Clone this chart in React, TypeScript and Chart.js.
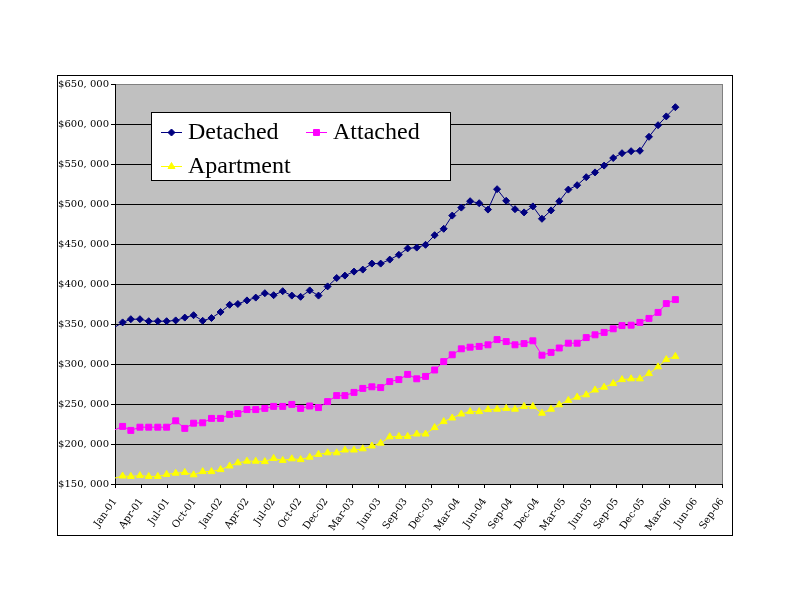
import { useEffect, useRef } from "react";
import { Chart, registerables } from "chart.js";
import { drawPoint } from "chart.js/helpers";

Chart.register(...registerables);

// monthly averages, Jan-01 .. Apr-06
const detached = [
  345000, 352000, 356000, 356000, 353500, 353500, 353500, 354500, 358000, 361000,
  354000, 357500, 365000, 374000, 375000, 379500, 383000, 388500, 386000, 391000,
  385500, 384000, 392000, 385500, 397000, 407500, 410500, 415500, 418000, 425500,
  425500, 430500, 436500, 444500, 445500, 449000, 461000, 469000, 485500, 495500,
  503500, 501000, 493000, 518500, 504000, 493500, 489500, 497000, 481500, 492000,
  503500, 518000, 523500, 533500, 539500, 548000, 557500, 563500, 566000, 566500,
  584000, 598500, 609500, 621000,
];
const attached = [
  217000, 222000, 217000, 221000, 221000, 221000, 221000, 229000, 219500, 226000,
  226500, 232000, 232000, 237000, 238000, 243000, 243000, 244500, 247000, 247000,
  249500, 244500, 247500, 245500, 253000, 260500, 260500, 264500, 269500, 271500,
  270500, 278000, 280500, 287000, 281500, 284500, 292500, 303000, 311500, 319000,
  321000, 322000, 324000, 330500, 328000, 324000, 325500, 329000, 311000, 314500,
  320000, 326000, 326000, 333000, 336500, 339500, 344000, 348000, 348500, 352000,
  357000, 364500, 375500, 380500,
];
const apartment = [
  157000, 160000, 159500, 160500, 159500, 159500, 162000, 163500, 164500, 161500,
  165500, 165500, 168000, 172500, 176500, 178500, 178500, 178000, 182000, 179500,
  181500, 180500, 183500, 187000, 189000, 189000, 192500, 192500, 194000, 197500,
  201000, 209000, 209500, 209500, 212500, 212500, 220500, 228000, 232500, 237500,
  240500, 240500, 243000, 243500, 244500, 243500, 247000, 247000, 238500, 243500,
  249000, 254500, 258500, 261500, 267500, 271000, 275500, 280500, 281500, 281500,
  288000, 296500, 305500, 309500,
];

const xTickLabels = [
  "Jan-01", "Apr-01", "Jul-01", "Oct-01", "Jan-02", "Apr-02", "Jul-02", "Oct-02",
  "Dec-02", "Mar-03", "Jun-03", "Sep-03", "Dec-03", "Mar-04", "Jun-04", "Sep-04",
  "Dec-04", "Mar-05", "Jun-05", "Sep-05", "Dec-05", "Mar-06", "Jun-06", "Sep-06",
];

// x axis is in days counted from 1 Jan 2001
const xMinDay = 5;
const xStepDays = 90;
const yMin = 150000;
const yMax = 650000;
const yStep = 50000;

const DAY = 86400000;
const monthDay = (i: number) => (Date.UTC(2001, i, 1) - Date.UTC(2001, 0, 1)) / DAY;
const toPoints = (vals: number[]) => vals.map((y, i) => ({ x: monthDay(i), y }));

const money = (v: number) => "$" + Math.floor(v / 1000) + ", " + String(v % 1000).padStart(3, "0");

const tickFont = { family: "'DejaVu Serif', serif", size: 10 };

const frame = {
  id: "frame",
  beforeDraw(chart: any) {
    const { ctx, chartArea: a } = chart;
    ctx.save();
    ctx.fillStyle = "#fff";
    ctx.fillRect(0, 0, chart.width, chart.height);
    ctx.strokeStyle = "#000";
    ctx.lineWidth = 1;
    ctx.strokeRect(57.5, 75.5, 675, 460);
    ctx.fillStyle = "#c0c0c0";
    ctx.fillRect(a.left, a.top, a.right - a.left, a.bottom - a.top);
    ctx.restore();
  },
  afterDraw(chart: any) {
    const { ctx, chartArea: a } = chart;
    ctx.save();
    ctx.strokeStyle = "#808080";
    ctx.lineWidth = 1;
    ctx.beginPath();
    ctx.moveTo(Math.round(a.right) + 0.5, a.top);
    ctx.lineTo(Math.round(a.right) + 0.5, a.bottom);
    ctx.stroke();

    // legend box
    ctx.fillStyle = "#fff";
    ctx.fillRect(151.5, 112.5, 299, 68);
    ctx.strokeStyle = "#000";
    ctx.strokeRect(151.5, 112.5, 299, 68);
    const slots = [
      [161, 132],
      [306, 132],
      [161, 166],
    ];
    chart.data.datasets.forEach((ds: any, i: number) => {
      const [x, y] = slots[i];
      ctx.strokeStyle = ds.borderColor;
      ctx.fillStyle = ds.backgroundColor;
      ctx.lineWidth = 1;
      ctx.beginPath();
      ctx.moveTo(x, y + 0.5);
      ctx.lineTo(x + 21, y + 0.5);
      ctx.stroke();
      drawPoint(ctx, { pointStyle: ds.pointStyle, radius: ds.legendRadius, rotation: 0, borderWidth: 1 }, x + 10.5, y + 0.5);
      ctx.fillStyle = "#000";
      ctx.font = "24px 'Liberation Serif', serif";
      ctx.textBaseline = "middle";
      ctx.fillText(ds.label, x + 27, y + 1);
    });
    ctx.restore();
  },
};

const series = [
  { label: "Detached", values: detached, color: "#000080", style: "rectRot", radius: 3.5 },
  { label: "Attached", values: attached, color: "#ff00ff", style: "rect", radius: 4.2 },
  { label: "Apartment", values: apartment, color: "#ffff00", style: "triangle", radius: 4 },
];

export default function App() {
  const canvasRef = useRef<HTMLCanvasElement>(null);

  useEffect(() => {
    document.body.style.margin = "0";
    const ctx = canvasRef.current?.getContext("2d");
    if (!ctx) return;

    const chart = new Chart(ctx, {
      type: "line",
      data: {
        datasets: series.map((s) => ({
          label: s.label,
          data: toPoints(s.values),
          borderColor: s.color,
          backgroundColor: s.color,
          borderWidth: 1,
          pointStyle: s.style,
          pointRadius: (c: any) => (c.raw && c.raw.x < xMinDay ? 0 : s.radius),
          pointBorderWidth: 1,
          legendRadius: s.radius,
          tension: 0,
          clip: 0,
        })) as any,
      },
      options: {
        animation: false,
        responsive: false,
        devicePixelRatio: 1,
        events: [],
        layout: { padding: { left: 0, right: 70, top: 84, bottom: 0 } },
        plugins: { legend: { display: false }, tooltip: { enabled: false } },
        scales: {
          x: {
            type: "linear",
            min: xMinDay,
            max: xMinDay + xStepDays * (xTickLabels.length - 1),
            afterBuildTicks: (s: any) => {
              s.ticks = xTickLabels.map((_, k) => ({ value: xMinDay + k * xStepDays }));
            },
            afterFit: (s: any) => {
              s.height = 128;
            },
            ticks: {
              autoSkip: false,
              minRotation: 55,
              maxRotation: 55,
              padding: 8,
              color: "#000",
              font: tickFont,
              callback: (_v: any, i: number) => xTickLabels[i],
            },
            grid: { drawOnChartArea: false, tickLength: 4, color: "#000" },
            border: { color: "#000" },
          },
          y: {
            min: yMin,
            max: yMax,
            afterFit: (s: any) => {
              s.width = 115;
            },
            ticks: {
              stepSize: yStep,
              padding: 2,
              color: "#000",
              font: tickFont,
              callback: (v: any) => money(Number(v)),
            },
            grid: {
              color: (c: any) => (c.tick && c.tick.value === yMax ? "#808080" : "#000"),
              tickColor: "#000",
              tickLength: 4,
            },
            border: { color: "#000" },
          },
        },
      },
      plugins: [frame],
    });

    return () => {
      chart.destroy();
    };
  }, []);

  return <canvas ref={canvasRef} width={792} height={612} style={{ display: "block" }} />;
}
